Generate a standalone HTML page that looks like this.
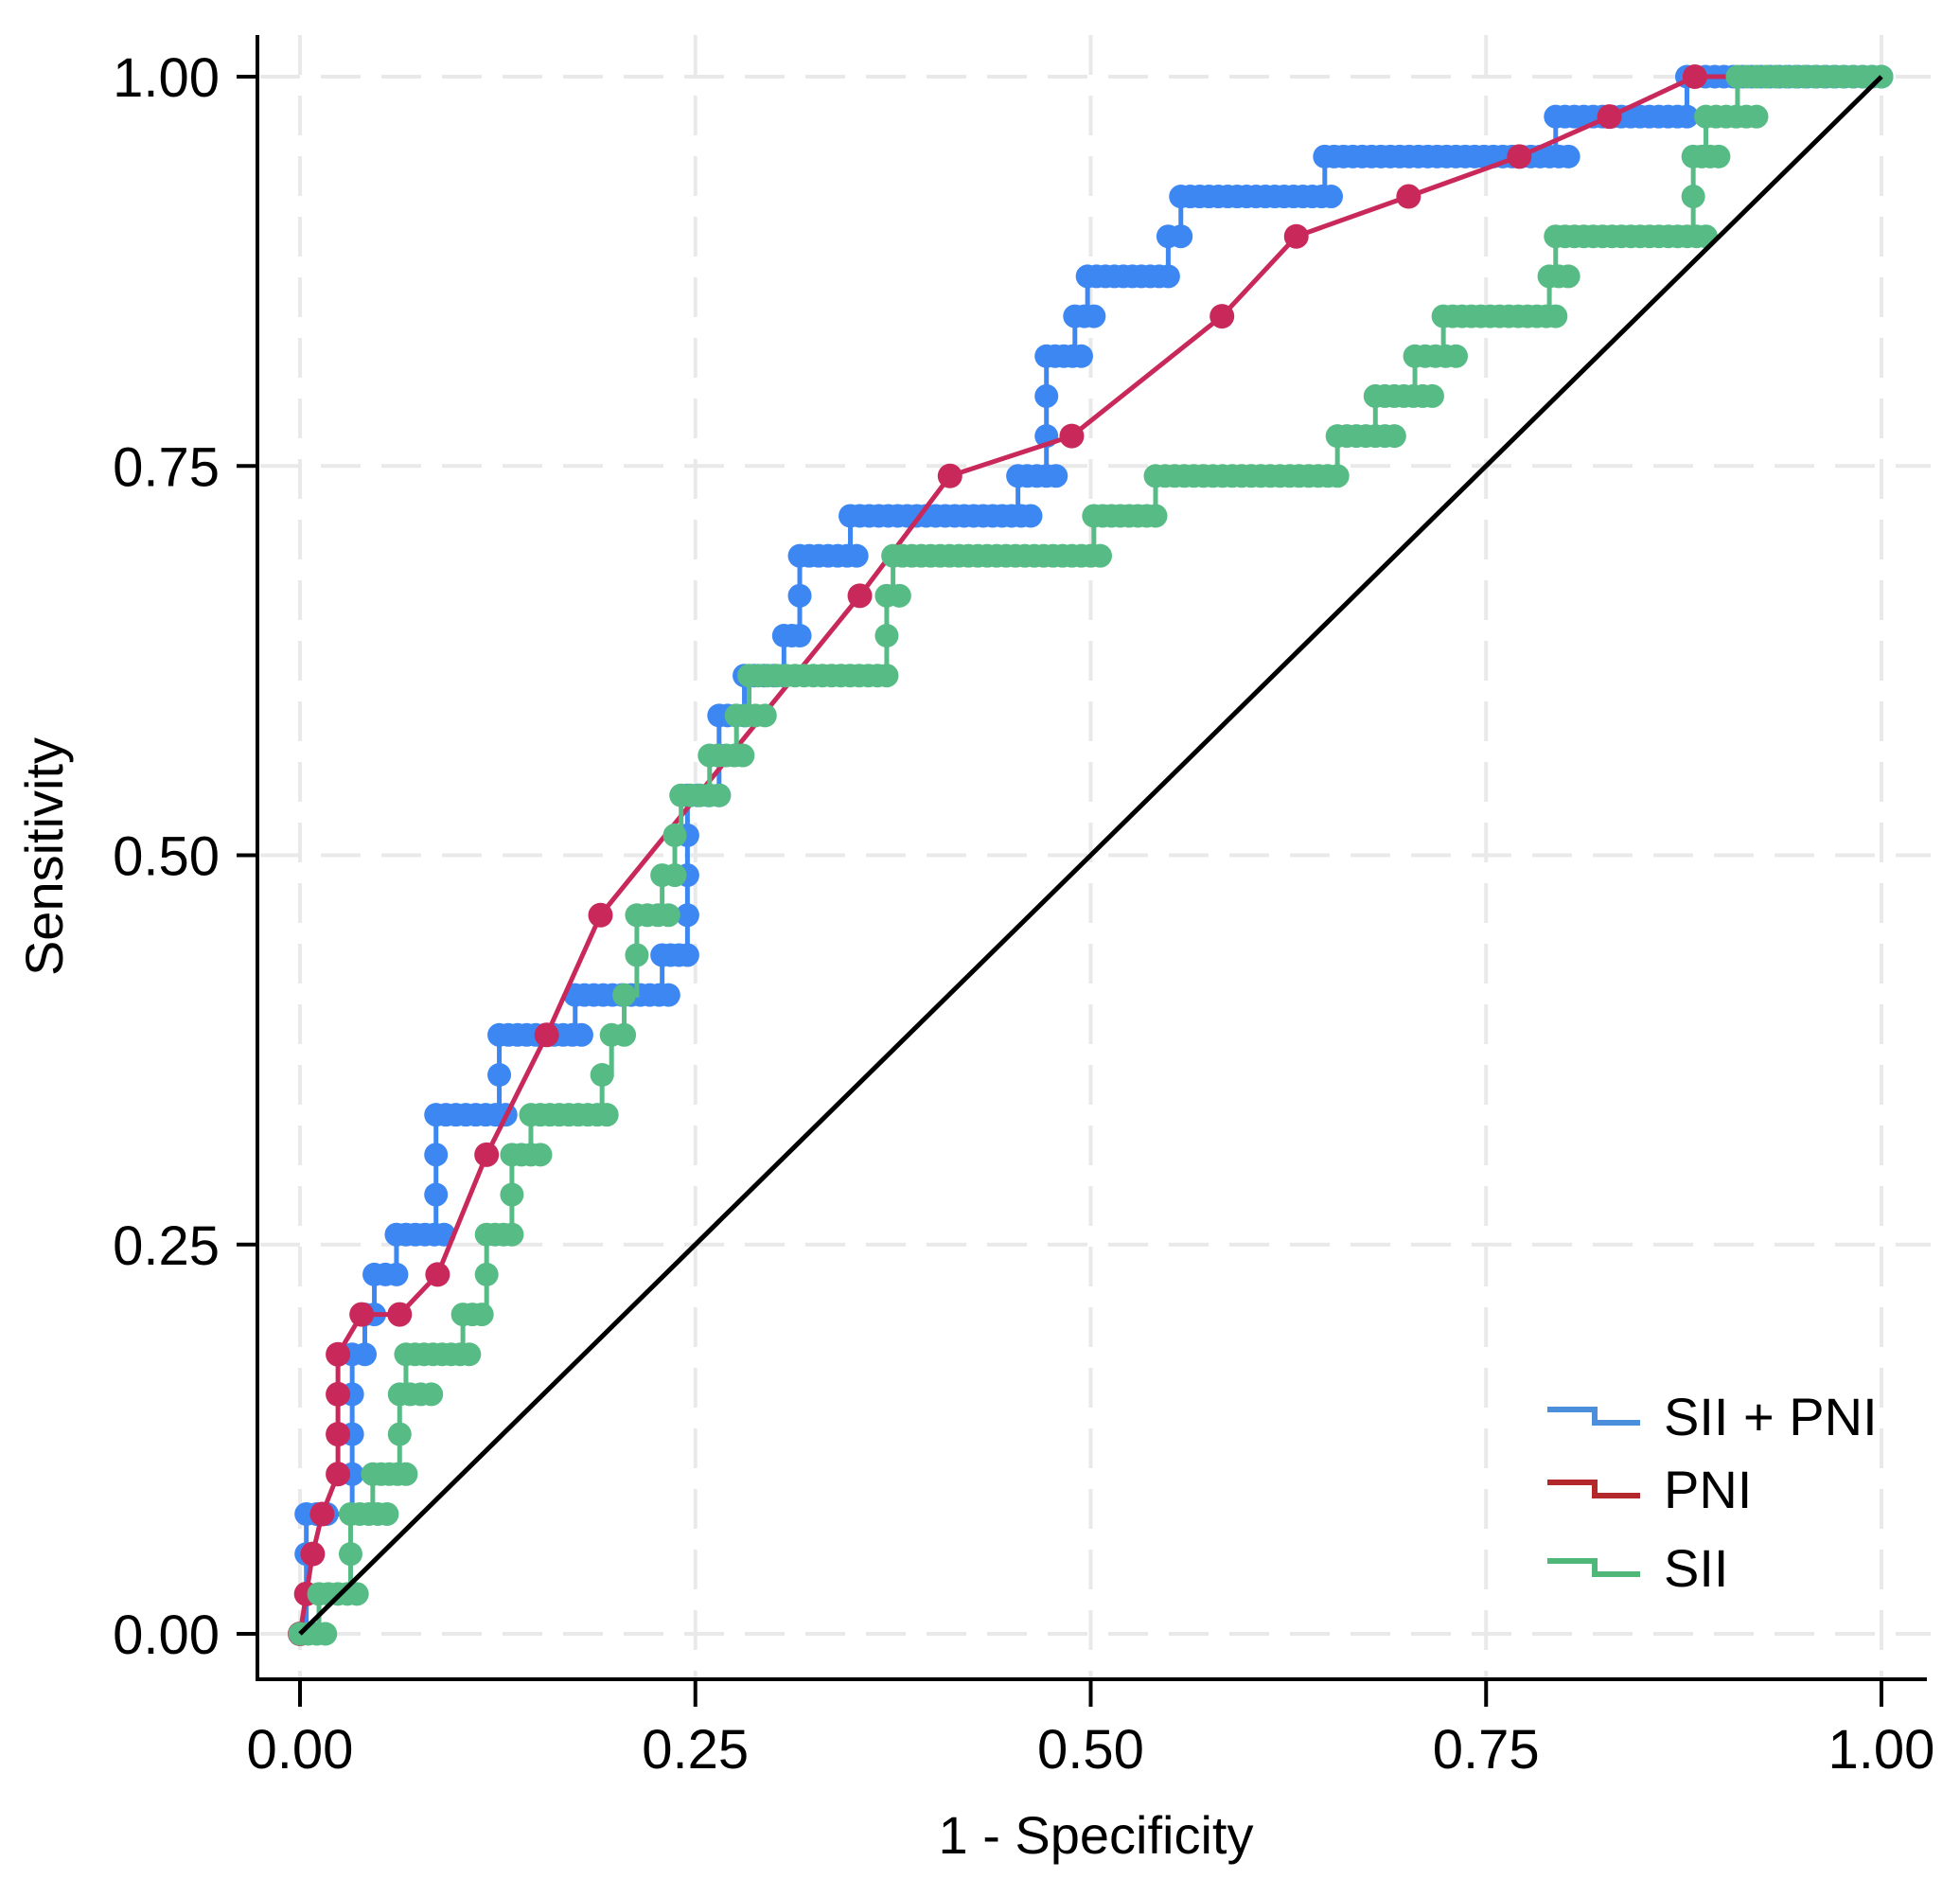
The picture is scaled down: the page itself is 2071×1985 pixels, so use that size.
<!DOCTYPE html>
<html><head><meta charset="utf-8"><style>
html,body{margin:0;padding:0;background:#fff;}
svg{display:block;font-family:"Liberation Sans",Arial,sans-serif;}
</style></head><body>
<svg id="chart" width="2071" height="1985" viewBox="0 0 2071 1985">
<g id="grid"></g>
<g id="series"></g>
<g id="axes"></g>
<g id="legend"></g>
</svg>
<script>
const xTicks = [0, 0.25, 0.5, 0.75, 1.0];
const yTicks = [0, 0.25, 0.5, 0.75, 1.0];
const tickLabels = ["0.00", "0.25", "0.50", "0.75", "1.00"];
const nPos = 39;
// SII + PNI: per sensitivity level k (k/39), FPR start and end of horizontal run
const comboStart = [0,.004,.004,.004,.033,.033,.033,.033,.041,.047,.061,.086,.086,.086,.126,.126,.174,.229,.245,.245,.245,.245,.265,.265,.281,.306,.316,.316,.348,.454,.472,.472,.472,.490,.498,.549,.557,.648,.794,.877];
const comboEnd   = [0,.004,.004,.017,.033,.033,.033,.041,.047,.061,.091,.086,.086,.130,.126,.178,.233,.245,.245,.245,.245,.265,.265,.281,.306,.316,.316,.352,.462,.478,.472,.472,.494,.502,.549,.557,.652,.802,.877,1.0];
// SII
const siiStart = [0,.012,.032,.032,.046,.063,.063,.067,.103,.118,.118,.134,.134,.146,.191,.197,.205,.213,.213,.229,.237,.241,.259,.276,.284,.371,.371,.375,.502,.541,.656,.680,.705,.723,.790,.794,.881,.881,.889,.909];
const siiEnd   = [.016,.036,.032,.055,.067,.063,.083,.107,.115,.118,.134,.134,.152,.194,.191,.205,.205,.213,.233,.237,.237,.265,.280,.294,.371,.371,.379,.506,.541,.656,.692,.716,.731,.794,.802,.889,.881,.897,.921,1.0];
// PNI
const pniFpr = [0,.004,.008,.014,.024,.024,.024,.024,.039,.063,.087,.118,.156,.190,.354,.411,.488,.583,.630,.701,.771,.828,.882];
const pniCount = [0,1,2,3,4,5,6,7,8,8,9,12,15,18,26,29,30,33,35,36,37,38,39];

const NS = "http://www.w3.org/2000/svg";
const X0 = 317, X1 = 1988, Y0 = 1726, Y1 = 81;
const sx = v => X0 + v * (X1 - X0);
const sy = v => Y0 - v * (Y0 - Y1);
function mk(tag, attrs, parent) {
  const e = document.createElementNS(NS, tag);
  for (const k in attrs) e.setAttribute(k, attrs[k]);
  parent.appendChild(e);
  return e;
}
const grid = document.getElementById('grid');
const series = document.getElementById('series');
const axes = document.getElementById('axes');
const legend = document.getElementById('legend');

xTicks.forEach((t, i) => {
  const l = mk('line', {x1: sx(t), x2: sx(t), y1: 37, y2: 1772, stroke: '#e9e9e9', 'stroke-width': 4, 'stroke-dasharray': '42 22'}, grid);
  
  
});
yTicks.forEach((t, i) => {
  const l = mk('line', {x1: 275, x2: 2040, y1: sy(t), y2: sy(t), stroke: '#e9e9e9', 'stroke-width': 4, 'stroke-dasharray': '42 22'}, grid);
  
  
});

function stepSeries(starts, ends, color, name) {
  const g = mk('g', {}, series);
  
  
  let d = '';
  for (let k = 0; k < starts.length; k++) {
    const y = sy(k / nPos);
    if (k === 0) d += 'M' + sx(starts[0]) + ' ' + y;
    else d += ' L' + sx(starts[k]) + ' ' + sy((k - 1) / nPos) + ' L' + sx(starts[k]) + ' ' + y;
    d += ' L' + sx(ends[k]) + ' ' + y;
  }
  const p = mk('path', {d: d, fill: 'none', stroke: color, 'stroke-width': 5}, g);
  
  
  for (let k = 0; k < starts.length; k++) {
    const y = sy(k / nPos);
    const a = starts[k], b = ends[k];
    const n = Math.max(0, Math.round((b - a) / 0.006));
    for (let j = 0; j <= n; j++) {
      const x = n === 0 ? a : a + (b - a) * j / n;
      const c = mk('circle', {cx: sx(x), cy: y, r: 12.5, fill: color}, g);
      
      
    }
  }
}
stepSeries(comboStart, comboEnd, '#3d87f3', 'sii-pni-curve');

(function () {
  const g = mk('g', {}, series);
  
  
  let pts = pniFpr.map((f, i) => sx(f) + ',' + sy(pniCount[i] / nPos)).join(' ');
  pts += ' ' + sx(0.912) + ',' + sy(1);
  const pl = mk('polyline', {points: pts, fill: 'none', stroke: '#c9295a', 'stroke-width': 5}, g);
  
  
  pniFpr.forEach((f, i) => {
    const c = mk('circle', {cx: sx(f), cy: sy(pniCount[i] / nPos), r: 13, fill: '#c9295a'}, g);
    
    
  });
})();

stepSeries(siiStart, siiEnd, '#56bb85', 'sii-curve');

const diag = mk('line', {x1: sx(0), y1: sy(0), x2: sx(1), y2: sy(1), stroke: '#000', 'stroke-width': 5}, series);



// axes
const ya = mk('line', {x1: 272, x2: 272, y1: 37, y2: 1776, stroke: '#000', 'stroke-width': 4}, axes);


const xa = mk('line', {x1: 270, x2: 2036, y1: 1774, y2: 1774, stroke: '#000', 'stroke-width': 4}, axes);


xTicks.forEach((t, i) => {
  const tk = mk('line', {x1: sx(t), x2: sx(t), y1: 1774, y2: 1803, stroke: '#000', 'stroke-width': 4}, axes);
  
  
  const tx = mk('text', {x: sx(t), y: 1868, 'font-size': 58, 'text-anchor': 'middle', fill: '#000'}, axes);
  tx.textContent = tickLabels[i];
  
  
});
yTicks.forEach((t, i) => {
  const tk = mk('line', {x1: 250, x2: 272, y1: sy(t), y2: sy(t), stroke: '#000', 'stroke-width': 4}, axes);
  
  
  const tx = mk('text', {x: 232, y: sy(t) + 21, 'font-size': 58, 'text-anchor': 'end', fill: '#000'}, axes);
  tx.textContent = tickLabels[i];
  
  
});
const xt = mk('text', {x: 1158, y: 1958, 'font-size': 56, 'text-anchor': 'middle', fill: '#000'}, axes);
xt.textContent = '1 - Specificity';


const yt = mk('text', {x: 0, y: 0, 'font-size': 56, 'text-anchor': 'middle', fill: '#000', transform: 'translate(66,905) rotate(-90)'}, axes);
yt.textContent = 'Sensitivity';



// legend
const legendLabels = ['SII + PNI', 'PNI', 'SII'];
const legendColors = ['#4b8fdc', '#b3282b', '#4fb878'];
const legendY = [1497, 1574, 1657];
legendLabels.forEach((lab, i) => {
  const y = legendY[i];
  const g = mk('g', {}, legend);
  
  
  const p = mk('path', {d: `M1635 ${y - 8} L1685 ${y - 8} L1685 ${y + 6} L1733 ${y + 6}`, fill: 'none', stroke: legendColors[i], 'stroke-width': 6}, g);
  
  
  const t = mk('text', {x: 1758, y: y + 19, 'font-size': 56, fill: '#000'}, g);
  t.textContent = lab;
  
  
});
</script>
</body></html>
